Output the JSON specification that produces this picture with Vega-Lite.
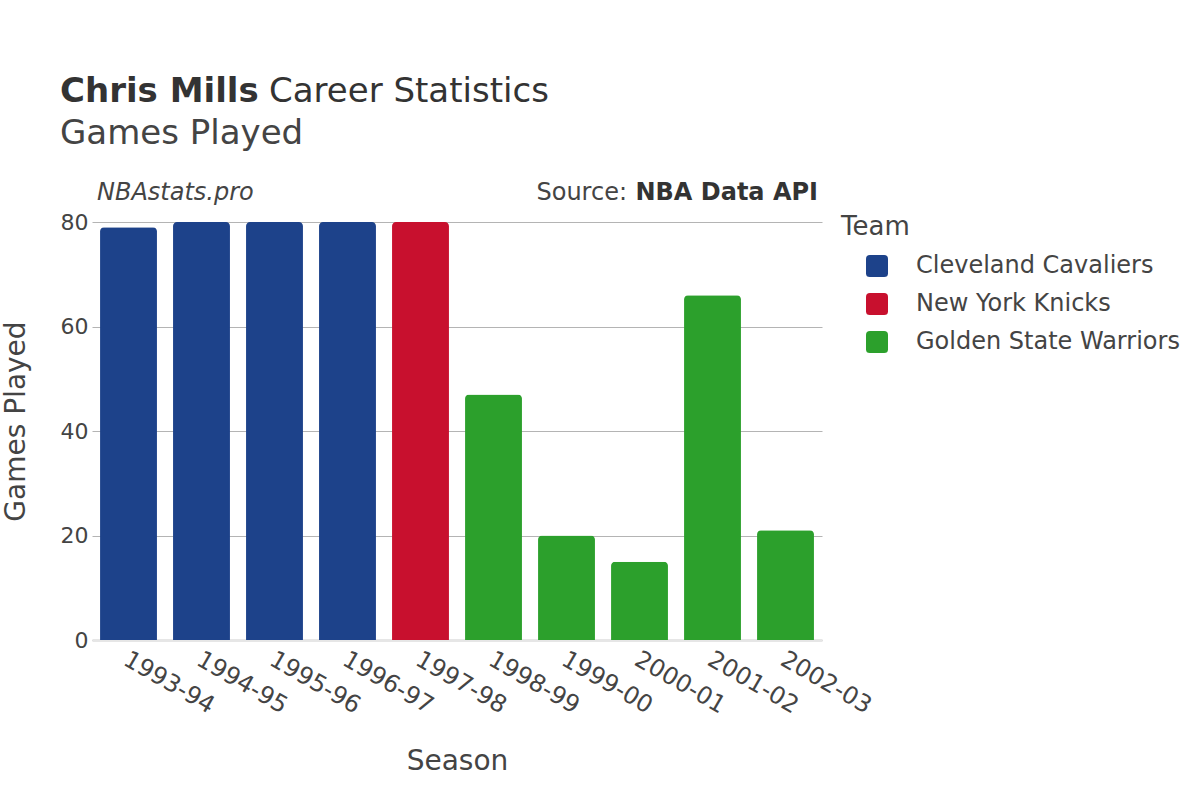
{
  "$schema": "https://vega.github.io/schema/vega-lite/v6.json",
  "autosize": "none",
  "width": 730,
  "height": 418,
  "padding": {"left": 92, "top": 222, "right": 378, "bottom": 160},
  "background": "white",
  "config": {
    "font": "DejaVu Sans",
    "view": {"stroke": null},
    "axis": {"labelColor": "#444444", "titleColor": "#444444", "titleFontWeight": "normal"},
    "legend": {"labelColor": "#444444", "titleColor": "#444444", "titleFontWeight": "normal"}
  },
  "datasets": {
    "stats": [
      {"season": "1993-94", "games": 79, "team": "Cleveland Cavaliers"},
      {"season": "1994-95", "games": 80, "team": "Cleveland Cavaliers"},
      {"season": "1995-96", "games": 80, "team": "Cleveland Cavaliers"},
      {"season": "1996-97", "games": 80, "team": "Cleveland Cavaliers"},
      {"season": "1997-98", "games": 80, "team": "New York Knicks"},
      {"season": "1998-99", "games": 47, "team": "Golden State Warriors"},
      {"season": "1999-00", "games": 20, "team": "Golden State Warriors"},
      {"season": "2000-01", "games": 15, "team": "Golden State Warriors"},
      {"season": "2001-02", "games": 66, "team": "Golden State Warriors"},
      {"season": "2002-03", "games": 21, "team": "Golden State Warriors"}
    ],
    "labels": [
      {"t": "Chris Mills", "kind": "titleBold"},
      {"t": "Career Statistics", "kind": "titleRest"},
      {"t": "Games Played", "kind": "subtitle"},
      {"t": "NBAstats.pro", "kind": "brand"},
      {"t": "Source:", "kind": "srcLabel"},
      {"t": "NBA Data API", "kind": "srcName"}
    ]
  },
  "layer": [
    {
      "data": {"name": "stats"},
      "mark": {"type": "bar", "cornerRadiusEnd": 4},
      "encoding": {
        "x": {
          "field": "season",
          "type": "nominal",
          "sort": null,
          "title": "Season",
          "scale": {"paddingInner": 0.22, "paddingOuter": 0.11},
          "axis": {
            "labelAngle": 30,
            "labelAlign": "left",
            "labelBaseline": "top",
            "labelFontSize": 24,
            "labelPadding": 7,
            "labelOffset": 3,
            "ticks": false,
            "domainColor": "#e6e6e6",
            "domainWidth": 3,
            "titleFontSize": 28,
            "titlePadding": 30
          }
        },
        "y": {
          "field": "games",
          "type": "quantitative",
          "title": "Games Played",
          "scale": {"domain": [0, 80], "nice": false},
          "axis": {
            "values": [0, 20, 40, 60, 80],
            "labelFontSize": 22,
            "labelPadding": 4,
            "ticks": false,
            "domain": false,
            "gridColor": "#b4b4b4",
            "gridWidth": 1,
            "titleFontSize": 28,
            "titlePadding": 30,
            "titleY": 199
          }
        },
        "color": {
          "field": "team",
          "type": "nominal",
          "title": "Team",
          "scale": {
            "domain": ["Cleveland Cavaliers", "New York Knicks", "Golden State Warriors"],
            "range": ["#1d428a", "#c8102e", "#2ca02c"]
          },
          "legend": {
            "orient": "none",
            "legendX": 749,
            "legendY": -8,
            "padding": 0,
            "titleFontSize": 26,
            "titlePadding": 14,
            "labelFontSize": 24,
            "labelLimit": 400,
            "labelOffset": 27,
            "symbolOffset": 24,
            "symbolSize": 484,
            "symbolType": "M -0.65,-1 H 0.65 Q 1,-1 1,-0.65 V 0.65 Q 1,1 0.65,1 H -0.65 Q -1,1 -1,0.65 V -0.65 Q -1,-1 -0.65,-1 Z",
            "symbolStrokeWidth": 0,
            "rowPadding": 14
          }
        }
      }
    },
    {
      "data": {"name": "labels"},
      "transform": [{"filter": "datum.kind === 'titleBold'"}],
      "mark": {"type": "text", "align": "left", "baseline": "alphabetic", "fontSize": 34, "fontWeight": "bold", "color": "#333333"},
      "encoding": {"text": {"field": "t"}, "x": {"value": -32}, "y": {"value": -120}}
    },
    {
      "data": {"name": "labels"},
      "transform": [{"filter": "datum.kind === 'titleRest'"}],
      "mark": {"type": "text", "align": "left", "baseline": "alphabetic", "fontSize": 34, "color": "#333333"},
      "encoding": {"text": {"field": "t"}, "x": {"value": 177}, "y": {"value": -120}}
    },
    {
      "data": {"name": "labels"},
      "transform": [{"filter": "datum.kind === 'subtitle'"}],
      "mark": {"type": "text", "align": "left", "baseline": "alphabetic", "fontSize": 34, "color": "#444444"},
      "encoding": {"text": {"field": "t"}, "x": {"value": -32}, "y": {"value": -78}}
    },
    {
      "data": {"name": "labels"},
      "transform": [{"filter": "datum.kind === 'brand'"}],
      "mark": {"type": "text", "align": "left", "baseline": "alphabetic", "fontSize": 24, "fontStyle": "italic", "color": "#444444"},
      "encoding": {"text": {"field": "t"}, "x": {"value": 5}, "y": {"value": -22}}
    },
    {
      "data": {"name": "labels"},
      "transform": [{"filter": "datum.kind === 'srcLabel'"}],
      "mark": {"type": "text", "align": "right", "baseline": "alphabetic", "fontSize": 24, "color": "#444444"},
      "encoding": {"text": {"field": "t"}, "x": {"value": 535}, "y": {"value": -22}}
    },
    {
      "data": {"name": "labels"},
      "transform": [{"filter": "datum.kind === 'srcName'"}],
      "mark": {"type": "text", "align": "right", "baseline": "alphabetic", "fontSize": 24, "fontWeight": "bold", "color": "#333333"},
      "encoding": {"text": {"field": "t"}, "x": {"value": 726}, "y": {"value": -22}}
    }
  ]
}
